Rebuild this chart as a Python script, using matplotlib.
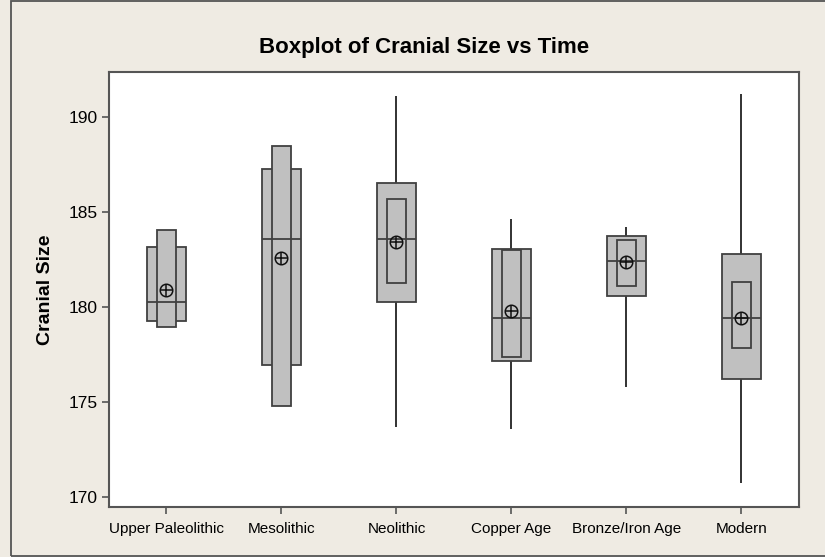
import numpy as np
import matplotlib
matplotlib.use("Agg")
import matplotlib.pyplot as plt
from matplotlib.patches import Rectangle

# values
categories = ["Upper Paleolithic", "Mesolithic", "Neolithic", "Copper Age", "Bronze/Iron Age", "Modern"]
q1 = [179.26, 176.98, 180.25, 177.16, 180.60, 176.20]
q3 = [183.17, 187.30, 186.56, 183.05, 183.77, 182.80]
medians = [180.25, 183.58, 183.58, 179.46, 182.44, 179.46]
ci_lo = [178.98, 174.79, 181.28, 177.40, 181.14, 177.88]
ci_hi = [184.07, 188.49, 185.70, 183.00, 183.54, 181.35]
means = [180.89, 182.58, 183.46, 179.81, 182.40, 179.42]
whisk_lo = [np.nan, np.nan, 173.70, 173.60, 175.80, 170.74]
whisk_hi = [np.nan, np.nan, 191.12, 184.63, 184.20, 191.25]
yticks = [170, 175, 180, 185, 190]

plt.rcParams["font.family"] = ["Liberation Sans", "DejaVu Sans"]

bg = "#EFEBE3"
edge = "#404040"
fill = "#C0C0C0"

fig = plt.figure(figsize=(8.25, 5.57), dpi=100, facecolor=bg)
ax = fig.add_axes([109 / 825, 1 - 506.7 / 557, 690 / 825, (506.7 - 71.7) / 557])
ax.set_facecolor("white")

x = np.arange(1, len(categories) + 1)
q1a, q3a = np.array(q1), np.array(q3)
clo, chi = np.array(ci_lo), np.array(ci_hi)

# whiskers
for xi, lo, hi, a, b in zip(x, whisk_lo, whisk_hi, q1, q3):
    if not np.isnan(lo):
        ax.vlines(xi, lo, a, color="#222222", lw=1.3, zorder=1)
    if not np.isnan(hi):
        ax.vlines(xi, b, hi, color="#222222", lw=1.3, zorder=1)

# IQR box and median CI box
ax.bar(x, q3a - q1a, bottom=q1a, width=0.335, color=fill, edgecolor=edge, linewidth=1.3, zorder=2)
ax.bar(x, chi - clo, bottom=clo, width=0.165, color=fill, edgecolor=edge, linewidth=1.3, zorder=3)
ax.hlines(medians, x - 0.1675, x + 0.1675, color=edge, lw=1.3, zorder=4)

# mean symbol
ax.plot(x, means, ls="none", marker="o", ms=9, mfc="none", mec="#111111", mew=1.1, zorder=5)
ax.plot(x, means, ls="none", marker="+", ms=9, mec="#111111", mew=1.1, zorder=5)

ax.set_xlim(0.5, 6.5)
ax.set_ylim(169.5, 192.4)
ax.set_xticks(x)
ax.set_xticklabels(categories, fontsize=11)
ax.set_yticks(yticks)
ax.tick_params(axis="y", labelsize=12.5, pad=3)
ax.tick_params(axis="x", pad=6)
ax.tick_params(direction="out", length=5, width=1.2, color="#555555")
for s in ax.spines.values():
    s.set_color("#555555")
    s.set_linewidth(1.5)

fig.text(424 / 825, 1 - 52.7 / 557, "Boxplot of Cranial Size vs Time", ha="center", va="baseline",
         fontsize=16, fontweight="bold")
fig.text(45 / 825, 1 - 290 / 557, "Cranial Size", rotation=90, ha="center", va="center",
         fontsize=14, fontweight="bold")

# outer frame
fig.patches.append(Rectangle((11 / 825, 1 / 557), 1.0, 555 / 557, transform=fig.transFigure,
                             fill=False, edgecolor="#555555", lw=1.3))

fig.savefig("out.png", dpi=100, facecolor=bg)
